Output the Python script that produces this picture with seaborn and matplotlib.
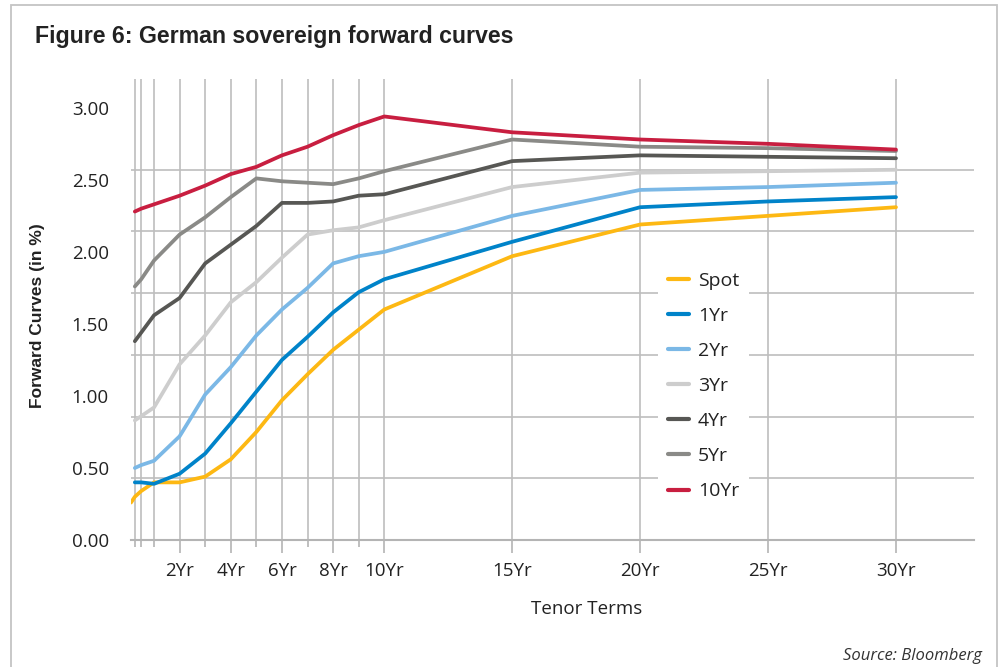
import numpy as np
import pandas as pd
import matplotlib
matplotlib.use("Agg")
import matplotlib.pyplot as plt
from matplotlib import font_manager
from matplotlib.patches import Rectangle
from matplotlib.ticker import FixedLocator, FuncFormatter
import seaborn as sns

# tenors (years)
tenors = [0.25, 0.5, 1, 2, 3, 4, 5, 6, 7, 8, 9, 10, 15, 20, 25, 30]
spot_tenors = [0.1] + tenors

spot = [0.26, 0.30, 0.34, 0.40, 0.40, 0.44, 0.56, 0.75, 0.97, 1.15, 1.32, 1.46, 1.60, 1.97, 2.19, 2.25, 2.31]
fwd_1y = [0.40, 0.40, 0.39, 0.46, 0.60, 0.81, 1.03, 1.25, 1.41, 1.58, 1.72, 1.81, 2.07, 2.31, 2.35, 2.38]
fwd_2y = [0.50, 0.52, 0.55, 0.72, 1.01, 1.20, 1.42, 1.60, 1.75, 1.92, 1.97, 2.00, 2.25, 2.43, 2.45, 2.48]
fwd_3y = [0.83, 0.86, 0.92, 1.22, 1.42, 1.65, 1.79, 1.96, 2.12, 2.15, 2.17, 2.22, 2.45, 2.55, 2.56, 2.57]
fwd_4y = [1.38, 1.44, 1.56, 1.68, 1.92, 2.05, 2.18, 2.34, 2.34, 2.35, 2.39, 2.40, 2.63, 2.67, 2.66, 2.65]
fwd_5y = [1.76, 1.81, 1.94, 2.12, 2.24, 2.38, 2.51, 2.49, 2.48, 2.47, 2.51, 2.56, 2.78, 2.73, 2.72, 2.70]
fwd_10y = [2.28, 2.30, 2.33, 2.39, 2.46, 2.54, 2.59, 2.67, 2.73, 2.81, 2.88, 2.94, 2.83, 2.78, 2.75, 2.71]

curve_names = ["Spot", "1Yr", "2Yr", "3Yr", "4Yr", "5Yr", "10Yr"]
curve_colors = ["#FDB813", "#0083C9", "#7BB8E6", "#CDCDCD", "#575754", "#8A8A87", "#C81E40"]

major_ticks = [2, 4, 6, 8, 10, 15, 20, 25, 30]
minor_ticks = [0.25, 0.5, 1, 3, 5, 7, 9]
y_ticks = [0.0, 0.5, 1.0, 1.5, 2.0, 2.5, 3.0]

# long-form table for seaborn
rows = []
series = [spot, fwd_1y, fwd_2y, fwd_3y, fwd_4y, fwd_5y, fwd_10y]
for name, vals in zip(curve_names, series):
    xs = spot_tenors if name == "Spot" else tenors
    for t, v in zip(xs, vals):
        rows.append({"tenor": t, "rate": v, "curve": name})
df = pd.DataFrame(rows)

sns.set_style("white")
installed = {f.name for f in font_manager.fontManager.ttflist}
plt.rcParams["font.family"] = ["Open Sans", "DejaVu Sans"]
narrow = "Liberation Sans Narrow" if "Liberation Sans Narrow" in installed else "Liberation Sans"

W, H = 1002, 667
fig = plt.figure(figsize=(W / 100, H / 100), dpi=100)
ax = fig.add_axes([131 / W, 1 - 540 / H, (974 - 131) / W, (540 - 79) / H])

sns.lineplot(data=df, x="tenor", y="rate", hue="curve", hue_order=curve_names,
             palette=dict(zip(curve_names, curve_colors)), linewidth=2.7,
             ax=ax, zorder=3)

ax.set_xlim(0.1, 33.05)
ax.set_ylim(0, 3.2)

# x axis: labelled long ticks plus short unlabeled ones
ax.xaxis.set_major_locator(FixedLocator(major_ticks))
ax.xaxis.set_minor_locator(FixedLocator(minor_ticks))
ax.set_xticklabels([f"{t}Yr" for t in major_ticks])
ax.tick_params(axis="x", which="major", direction="out", length=9.5, width=1.2,
               color="#B4B4B4", labelsize=13.5, labelcolor="#222222", pad=6, bottom=True)
ax.tick_params(axis="x", which="minor", direction="out", length=5, width=1.2,
               color="#B4B4B4", bottom=True)
ax.grid(True, axis="x", which="both", color="#BEBEBE", linewidth=1.2, zorder=0)

# y axis: labels every 0.5, grid drawn on its own 7 equal steps (as in the source)
ax.yaxis.set_major_locator(FixedLocator(y_ticks))
ax.yaxis.set_major_formatter(FuncFormatter(lambda v, p: f"{v:.2f}"))
ax.yaxis.set_minor_locator(FixedLocator(list(np.linspace(0, 3, 8))))
ax.tick_params(axis="y", which="both", length=0, labelsize=13.5, labelcolor="#222222", pad=16)
ax.grid(True, axis="y", which="minor", color="#BEBEBE", linewidth=1.2, zorder=0)
ax.set_axisbelow(True)

for side in ["top", "right", "left"]:
    ax.spines[side].set_visible(False)
ax.spines["bottom"].set_color("#B4B4B4")
ax.spines["bottom"].set_linewidth(1.5)
ax.set_xlabel("")
ax.set_ylabel("")

leg = ax.legend(loc="upper left", bbox_to_anchor=((658 - 131) / 843, (540 - 262) / 461),
                borderaxespad=0, frameon=True, fontsize=14, handlelength=1.1,
                handletextpad=0.45, labelspacing=0.88, borderpad=0.5)
leg.get_frame().set_facecolor("white")
leg.get_frame().set_edgecolor("none")
leg.get_frame().set_alpha(1)
leg.get_frame().set_boxstyle("square", pad=0)
for line in leg.get_lines():
    line.set_linewidth(3)
for txt in leg.get_texts():
    txt.set_color("#222222")

fig.text(35 / W, 1 - 36 / H, "Figure 6: German sovereign forward curves",
         family=[narrow, "DejaVu Sans"], fontweight="bold", fontsize=16.7,
         color="#222222", va="center", ha="left")
fig.text(38 / W, 1 - 316 / H, "Forward Curves (in %)", family=[narrow, "DejaVu Sans"],
         fontweight="bold", fontsize=12.5, color="#222222", rotation=90,
         va="center", ha="center")
fig.text(587 / W, 1 - 609 / H, "Tenor Terms", fontsize=13.5, color="#222222",
         va="center", ha="center")
fig.text(982 / W, 1 - 656 / H, "Source: Bloomberg", fontsize=12, style="italic",
         color="#333333", va="center", ha="right")

fig.add_artist(Rectangle((11 / W, -0.05), (997 - 11) / W, 1.05 - 5 / H,
                         transform=fig.transFigure, fill=False,
                         edgecolor="#C4C4C4", linewidth=1.3))

fig.savefig("out.png", dpi=100)
